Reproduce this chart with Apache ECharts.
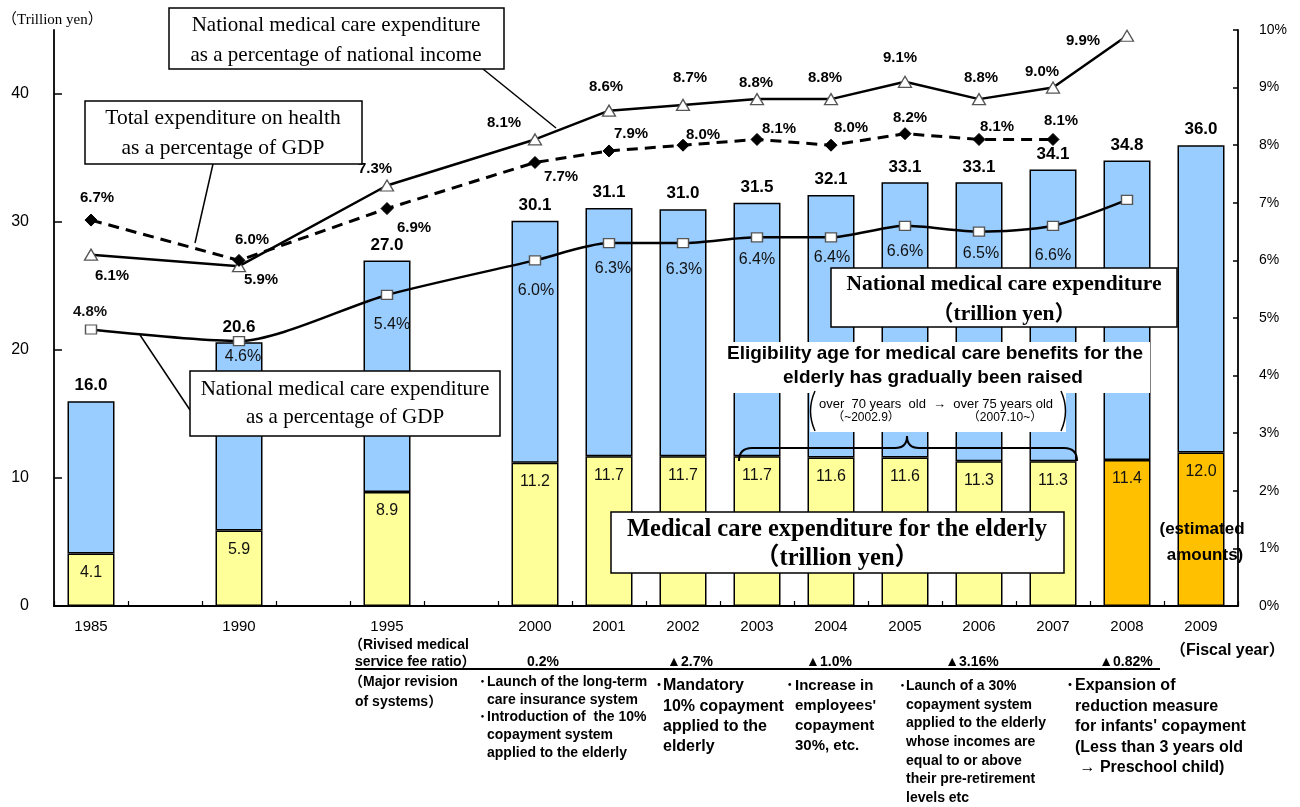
<!DOCTYPE html>
<html><head><meta charset="utf-8">
<script src="https://cdn.jsdelivr.net/npm/echarts@6/dist/echarts.min.js"></script>
<style>html,body{margin:0;padding:0;background:#fff}#c{width:1300px;height:807px}</style>
</head><body><div id="c"></div>
<script>
// ---------------- data ----------------
const years = ['1985','','1990','','1995','','2000','2001','2002','2003','2004','2005','2006','2007','2008','2009'];
const totalExpenditure   = [16.0,null,20.6,null,27.0,null,30.1,31.1,31.0,31.5,32.1,33.1,33.1,34.1,34.8,36.0];
const elderlyExpenditure = [4.1,null,5.9,null,8.9,null,11.2,11.7,11.7,11.7,11.6,11.6,11.3,11.3,11.4,12.0];
const pctNationalIncome  = [6.1,null,5.9,null,7.3,null,8.1,8.6,8.7,8.8,8.8,9.1,8.8,9.0,9.9,null];
const pctHealthGDP       = [6.7,null,6.0,null,6.9,null,7.7,7.9,8.0,8.1,8.0,8.2,8.1,8.1,null,null];
const pctMedicalGDP      = [4.8,null,4.6,null,5.4,null,6.0,6.3,6.3,6.4,6.4,6.6,6.5,6.6,7.05,null];
const estimatedYears = ['2008','2009'];
const leftTicks  = [0,10,20,30,40];
const rightTicks = [0,1,2,3,4,5,6,7,8,9,10];
const feeRevisions = ['0.2%','▲2.7%','▲1.0%','▲3.16%','▲0.82%'];

// ---------------- presentation ----------------
const SANS = '"Liberation Sans", Arial, "Noto Sans CJK JP", sans-serif';
const SERIF = '"Liberation Serif", "Times New Roman", "Noto Sans CJK JP", serif';
const off1 = [[21,21],null,[22,14],null,[-12,-17],null,[-31,-17],[-3,-24],[7,-27],[-1,-16],[-6,-21],[-5,-24],[2,-21],[-11,-16],[-44,5],null];
const off2 = [[6,-22],null,[13,-21],null,[27,19],null,[26,14],[22,-17],[20,-10],[22,-11],[20,-17],[5,-16],[18,-13],[8,-19],null,null];
const off3 = [[-1,-18],null,[4,16],null,[5,30],null,[1,30],[4,25],[1,26],[0,22],[1,20],[0,26],[2,22],[0,30],null,null];

const cats = years.map((y,i)=> y || ('_' + i));
const restExpenditure = totalExpenditure.map((t,i)=> t==null ? null : Math.round((t - elderlyExpenditure[i])*10)/10);

function buildLine(vals, offs, extra) {
  return vals.map((v,i)=> {
    if (v == null) return null;
    const item = {value: v};
    if (offs[i]) item.label = Object.assign({offset: offs[i]}, extra ? extra(i) : {});
    else item.label = {show: false};
    return item;
  });
}

const G = [];
function txt(x,y,text,font,align,extra){ G.push({type:'text', z:100, style:Object.assign({x:x,y:y,text:text,font:font,fill:'#000',align:align||'left',verticalAlign:'middle'}, extra||{})}); }
function box(x,y,w,h,stroke){ G.push({type:'rect', z:98, shape:{x:x,y:y,width:w,height:h}, style:{fill:'#fff', stroke: stroke===false?null:'#000', lineWidth:1.5}}); }
function ln(x1,y1,x2,y2,w,z){ G.push({type:'line', z:z||97, shape:{x1:x1,y1:y1,x2:x2,y2:y2}, style:{stroke:'#000', lineWidth:w||1.5}}); }
function bz(x1,y1,cx,cy,x2,y2,w){ G.push({type:'bezierCurve', z:100, shape:{x1:x1,y1:y1,x2:x2,y2:y2,cpx1:cx,cpy1:cy}, style:{stroke:'#000', fill:null, lineWidth:w||2}}); }

const F = (s, w) => (w ? w + ' ' : '') + s + 'px ' + SANS;
const FS = (s, w) => (w ? w + ' ' : '') + s + 'px ' + SERIF;

// top-left unit
txt(2,20,'（Trillion yen）',FS(15));
// box 1
ln(483,69,556,128);
box(169,8,335,61);
txt(336,25,'National medical care expenditure',FS(21),'center');
txt(336,55,'as a percentage of national income',FS(21),'center');
// box 2
ln(213,164,195,243);
box(85,101,277,63);
txt(223,118,'Total expenditure on health',FS(21.5),'center');
txt(223,148,'as a percentage of GDP',FS(21.5),'center');
// box 3
ln(140,335,190,410);
box(190,371,310,65);
txt(345,389,'National medical care expenditure',FS(21),'center');
txt(345,417,'as a percentage of GDP',FS(21),'center');
// box 4
box(831,268,346,59);
txt(1004,284,'National medical care expenditure',FS(21.5,'bold'),'center');
txt(1004,314,'（trillion yen）',FS(21.5,'bold'),'center');
// eligibility
box(718,342,432,51,false);
txt(935,354,'Eligibility age for medical care benefits for the',F(19,'bold'),'center');
txt(933,378,'elderly has gradually been raised',F(19,'bold'),'center');
box(810,393,256,39,false);
txt(936,404,'over  70 years  old  →  over 75 years old',F(13),'center');
txt(866,418,'（~2002.9）',F(12),'center');
txt(1005,418,'（2007.10~）',F(12),'center');
bz(815,391,806,411,815,431,1.5);
bz(1061,391,1070,411,1061,431,1.5);
// brace
bz(739,461,739,448,752,448,2);
ln(752,448,895,448,2,100);
bz(895,448,907,448,907,436,2);
bz(907,436,907,448,919,448,2);
ln(919,448,1064,448,2,100);
bz(1064,448,1077,448,1077,461,2);
// box 6
box(611,512,453,61);
txt(837,530,'Medical care expenditure for the elderly',FS(24.5,'bold'),'center');
txt(837,559,'（trillion yen）',FS(24.5,'bold'),'center');
// estimated
txt(1202,529,'(estimated',F(17,'bold'),'center');
txt(1205,555,'amounts)',F(17,'bold'),'center');

// bottom notes
txt(349,645,'（Rivised medical',F(14,'bold'));
txt(355,662,'service fee ratio）',F(14,'bold'));
const feeX = [543,690,829,972,1126];
feeRevisions.forEach((t,i)=> txt(feeX[i],662,t,F(14,'bold'),'center'));
ln(355,669,1160,669,1.8);
txt(1170,651,'（Fiscal year）',F(16,'bold'));
txt(349,682,'（Major revision',F(14,'bold'));
txt(355,702,'of systems）',F(14,'bold'));

function block(bx, tx, y0, dy, lines, bullets, font){
  lines.forEach((l,i)=>{
    if (bullets.includes(i)) txt(bx, y0+i*dy, '･', font);
    txt(tx, y0+i*dy, l, font);
  });
}
block(479,487,682,17.7,['Launch of the long-term','care insurance system','Introduction of  the 10%','copayment system','applied to the elderly'],[0,2],F(14,'bold'));
block(655,663,686,20.3,['Mandatory','10% copayment','applied to the','elderly'],[0],F(16,'bold'));
block(786,795,686,20,['Increase in','employees\'','copayment','30%, etc.'],[0],F(15,'bold'));
block(899,906,686,18.7,['Launch of a 30%','copayment system','applied to the elderly','whose incomes are','equal to or above','their pre-retirement','levels etc'],[0],F(14,'bold'));
block(1066,1075,686,20.5,['Expansion of','reduction measure','for infants\' copayment','(Less than 3 years old',' → Preschool child)'],[0],F(16,'bold'));

const chart = echarts.init(document.getElementById('c'));
chart.setOption({
  animation: false,
  backgroundColor: '#fff',
  grid: {left: 54, right: 62, top: 30, bottom: 201, containLabel: false, outerBoundsMode: 'none'},
  xAxis: {
    type: 'category', data: cats, boundaryGap: true,
    axisLine: {show: true, lineStyle: {color: '#000', width: 2}},
    axisTick: {show: true, inside: true, length: 5, interval: 0, alignWithLabel: false, lineStyle: {color: '#000', width: 1.2}},
    axisLabel: {interval: 0, margin: 13, color: '#000', fontSize: 15, fontFamily: SANS, formatter: v => v.charAt(0) === '_' ? '' : v},
    splitLine: {show: false}
  },
  yAxis: [
    {type: 'value', min: 0, max: 45, interval: 5, position: 'left',
     axisLine: {show: true, lineStyle: {color: '#000', width: 1.8}},
     axisTick: {show: true, inside: true, length: 8, customValues: leftTicks, lineStyle: {color: '#000', width: 1.5}},
     axisLabel: {color: '#000', fontSize: 16, fontFamily: SANS, margin: 25, customValues: leftTicks},
     splitLine: {show: false}},
    {type: 'value', min: 0, max: 10, interval: 1, position: 'right',
     axisLine: {show: true, lineStyle: {color: '#000', width: 1.8}},
     axisTick: {show: true, inside: true, length: 5, customValues: rightTicks, lineStyle: {color: '#000', width: 1.5}},
     axisLabel: {color: '#000', fontSize: 14, fontFamily: SANS, margin: 21, formatter: '{value}%', customValues: rightTicks},
     splitLine: {show: false}}
  ],
  series: [
    {type: 'bar', stack: 'nme', barWidth: 47, data: elderlyExpenditure,
     itemStyle: {color: p => estimatedYears.includes(years[p.dataIndex]) ? '#FFC000' : '#FFFF99', borderColor: '#000', borderWidth: 1.5},
     label: {show: true, position: 'insideTop', distance: 11, fontSize: 16, fontFamily: SANS, color: '#111',
             formatter: p => p.value == null ? '' : Number(p.value).toFixed(1)}},
    {type: 'bar', stack: 'nme', barWidth: 47, data: restExpenditure,
     itemStyle: {color: '#99CCFF', borderColor: '#000', borderWidth: 1.5},
     label: {show: true, position: 'top', distance: 7, fontSize: 17, fontWeight: 'bold', fontFamily: SANS, color: '#000',
             formatter: p => totalExpenditure[p.dataIndex] == null ? '' : totalExpenditure[p.dataIndex].toFixed(1)}},
    {type: 'line', yAxisIndex: 1, z: 5, connectNulls: true, data: buildLine(pctNationalIncome, off1),
     symbol: 'triangle', symbolSize: [13, 11], itemStyle: {color: '#fff', borderColor: '#555', borderWidth: 1.3},
     lineStyle: {color: '#000', width: 2.5},
     label: {show: true, position: 'inside', color: '#000', fontSize: 15, fontWeight: 'bold', fontFamily: SANS,
             formatter: p => Number(p.value).toFixed(1) + '%'}},
    {type: 'line', yAxisIndex: 1, z: 5, connectNulls: true, data: buildLine(pctHealthGDP, off2),
     symbol: 'diamond', symbolSize: 12, itemStyle: {color: '#000', borderColor: '#000', borderWidth: 1},
     lineStyle: {color: '#000', width: 3, type: [11, 7]},
     label: {show: true, position: 'inside', color: '#000', fontSize: 15, fontWeight: 'bold', fontFamily: SANS,
             formatter: p => Number(p.value).toFixed(1) + '%'}},
    {type: 'line', yAxisIndex: 1, z: 5, connectNulls: true, smooth: 0.25,
     data: buildLine(pctMedicalGDP, off3, i => i === 0 ? {fontWeight: 'bold', fontSize: 15} : {}),
     symbol: 'rect', symbolSize: [11, 9], itemStyle: {color: '#fff', borderColor: '#555', borderWidth: 1.3},
     lineStyle: {color: '#000', width: 2.5},
     label: {show: true, position: 'inside', color: '#111', fontSize: 16, fontFamily: SANS,
             formatter: p => Number(p.value).toFixed(1) + '%'}}
  ],
  graphic: G
});
</script></body></html>
